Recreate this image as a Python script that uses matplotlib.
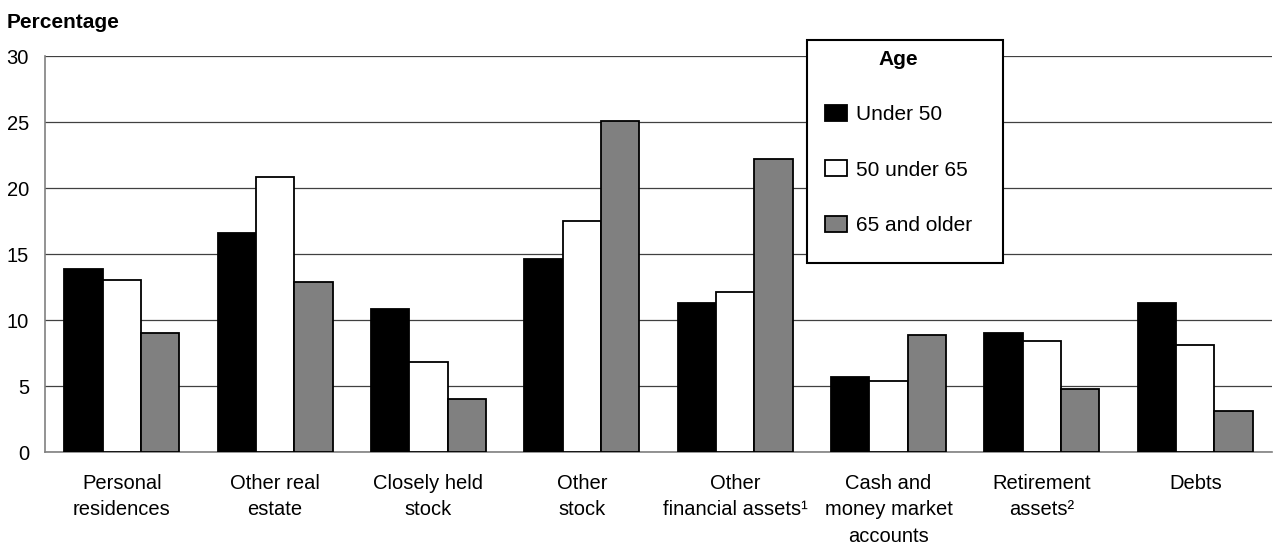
import matplotlib
matplotlib.use("Agg")
import matplotlib.pyplot as plt
import numpy as np
from matplotlib.patches import Rectangle

plt.rcParams['font.family'] = ['Liberation Sans', 'DejaVu Sans']

categories = ["Personal\nresidences", "Other real\nestate", "Closely held\nstock",
              "Other\nstock", "Other\nfinancial assets\u00b9", "Cash and\nmoney market\naccounts",
              "Retirement\nassets\u00b2", "Debts"]
under_50 = [13.9, 16.6, 10.8, 14.6, 11.3, 5.7, 9.0, 11.3]
age_50_65 = [13.0, 20.8, 6.8, 17.5, 12.1, 5.4, 8.4, 8.1]
age_65_plus = [9.0, 12.9, 4.0, 25.1, 22.2, 8.9, 4.8, 3.1]
series_labels = ["Under 50", "50 under 65", "65 and older"]
series_colors = ["#000000", "#ffffff", "#808080"]
yticks = [0, 5, 10, 15, 20, 25, 30]

W, H = 1273, 546
fig = plt.figure(figsize=(W / 100, H / 100), dpi=100)
ax = fig.add_axes([45 / W, 1 - 452 / H, (1272 - 45) / W, (452 - 56) / H])

x = np.arange(len(categories))
bw = 0.25
for i, (vals, lab, col) in enumerate(zip([under_50, age_50_65, age_65_plus], series_labels, series_colors)):
    ax.bar(x + (i - 1) * bw, vals, width=bw, color=col, edgecolor="black",
           linewidth=1.3, label=lab, zorder=3)

ax.set_xlim(-0.5, len(categories) - 0.5)
ax.set_ylim(0, 30)
ax.set_yticks(yticks)
ax.set_yticklabels([str(t) for t in yticks])
ax.set_xticks(x)
ax.set_xticklabels(categories, fontsize=14.5, linespacing=1.5, va="top")
ax.tick_params(axis="x", length=0, pad=15.5)
ax.tick_params(axis="y", length=0, pad=11.5, labelsize=14.5)
ax.yaxis.grid(True, color="#404040", linewidth=0.9, zorder=0)
ax.set_axisbelow(True)
for s in ["top", "right"]:
    ax.spines[s].set_visible(False)
for s in ["left", "bottom"]:
    ax.spines[s].set_color("#808080")
    ax.spines[s].set_linewidth(1.2)

fig.text(7 / W, 1 - 28 / H, "Percentage", fontsize=15, fontweight="bold", ha="left", va="baseline")

# legend frame
rect = Rectangle((807 / W, 1 - 263 / H), (1003 - 807) / W, (263 - 40) / H,
                 transform=fig.transFigure, facecolor="white", edgecolor="black",
                 linewidth=1.5, zorder=8, clip_on=False)
ax.add_patch(rect)
leg = ax.legend(loc="upper left", bbox_to_anchor=(808 / W, 1 - 33 / H),
                bbox_transform=fig.transFigure, frameon=False, title="Age",
                fontsize=15, title_fontproperties={"weight": "bold", "size": 15},
                handlelength=1.05, handleheight=0.8, handletextpad=0.45,
                labelspacing=1.74, borderpad=0.3)
leg._legend_box.align = "center"
leg.set_zorder(10)

fig.savefig("out.png", dpi=100)
